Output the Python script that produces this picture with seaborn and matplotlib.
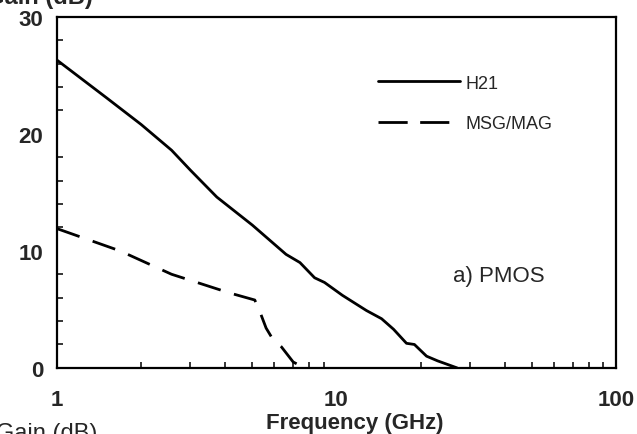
import numpy as np
import pandas as pd
import matplotlib
matplotlib.use("Agg")
import matplotlib.pyplot as plt
import seaborn as sns
from matplotlib.ticker import FixedLocator, FixedFormatter, NullFormatter

# values
H21_FREQ = [1, 1.5, 2, 2.57, 3, 3.73, 5, 6.6, 7.4, 8.35, 9.06, 10.5, 12.8, 14.5, 16, 17.8, 19, 21, 23, 27]
H21_GAIN = [26.3, 23.1, 20.8, 18.6, 16.9, 14.6, 12.2, 9.7, 9.0, 7.7, 7.3, 6.2, 4.9, 4.2, 3.3, 2.1, 2.0, 1.0, 0.6, 0.0]
MSG_FREQ = [1, 1.68, 2.57, 4.15, 5.1, 5.3, 5.6, 5.9, 6.35, 7.0, 7.7]
MSG_GAIN = [11.9, 10.0, 8.0, 6.4, 5.8, 4.9, 3.4, 2.5, 1.8, 0.5, 0.0]
SERIES = ["H21", "MSG/MAG"]
X_MAJOR = [1, 10, 100]
X_LABELS = ["1", "10", "100"]
Y_MAJOR = [0, 10, 20, 30]

sns.set_style("white")
plt.rcParams["font.family"] = ["Liberation Sans", "DejaVu Sans"]

df = pd.concat([
    pd.DataFrame({"freq": H21_FREQ, "gain": H21_GAIN, "curve": SERIES[0]}),
    pd.DataFrame({"freq": MSG_FREQ, "gain": MSG_GAIN, "curve": SERIES[1]}),
])

fig = plt.figure(figsize=(6.37, 4.35), dpi=100)
ax = fig.add_axes([0.0895, 0.152, 0.8775, 0.807])

lw = 2.0
sns.lineplot(data=df, x="freq", y="gain", style="curve", color="black",
             dashes={"H21": "", "MSG/MAG": (8.6, 5.0)}, estimator=None,
             sort=False, linewidth=lw, ax=ax)

ax.set_xscale("log")
ax.set_xlim(1, 100)
ax.set_ylim(0, 30)

ax.xaxis.set_major_locator(FixedLocator(X_MAJOR))
ax.xaxis.set_major_formatter(FixedFormatter(X_LABELS))
minors = [m * d for d in (1, 10) for m in range(2, 10)]
ax.xaxis.set_minor_locator(FixedLocator(minors))
ax.xaxis.set_minor_formatter(NullFormatter())
ax.yaxis.set_major_locator(FixedLocator(Y_MAJOR))
ax.yaxis.set_minor_locator(FixedLocator(np.arange(0, 31, 2)))

ax.tick_params(which="major", direction="inout", length=8, width=1.3, color="black",
               labelsize=16)
ax.tick_params(which="minor", direction="in", length=4, width=1.1, color="black")
ax.tick_params(axis="x", which="major", pad=11)
ax.tick_params(axis="y", which="major", pad=6)
ax.tick_params(axis="x", which="minor", bottom=True)
ax.tick_params(axis="y", which="minor", left=True)
for lab in ax.get_xticklabels() + ax.get_yticklabels():
    lab.set_fontweight("bold")

for s in ax.spines.values():
    s.set_color("black")
    s.set_linewidth(1.6)

ax.set_xlabel("Frequency (GHz)", fontsize=16, fontweight="bold")
ax.xaxis.set_label_coords(0.533, -0.125)
ax.set_ylabel("")

handles, labels = ax.get_legend_handles_labels()
leg = ax.legend(handles, labels, loc="upper left", bbox_to_anchor=(0.575, 0.835),
                frameon=False, fontsize=13, handlelength=4.5, handletextpad=0.3,
                labelspacing=1.3, borderpad=0, borderaxespad=0)
for line in leg.get_lines():
    line.set_color("black")
    line.set_linewidth(lw)
leg.get_lines()[1].set_dashes((10.5, 4.5))

ax.text(0.79, 0.262, "a) PMOS", transform=ax.transAxes, fontsize=16,
        ha="center", va="center")

# cut-off axis titles from the scan
fig.text(-0.022, 1 - 4 / 435, "Gain (dB)", fontsize=17, fontweight="bold",
         ha="left", va="baseline")
fig.text(-0.006, 1 - 423 / 435, "Gain (dB)", fontsize=17,
         ha="left", va="top")

fig.savefig("out.png", dpi=100)
